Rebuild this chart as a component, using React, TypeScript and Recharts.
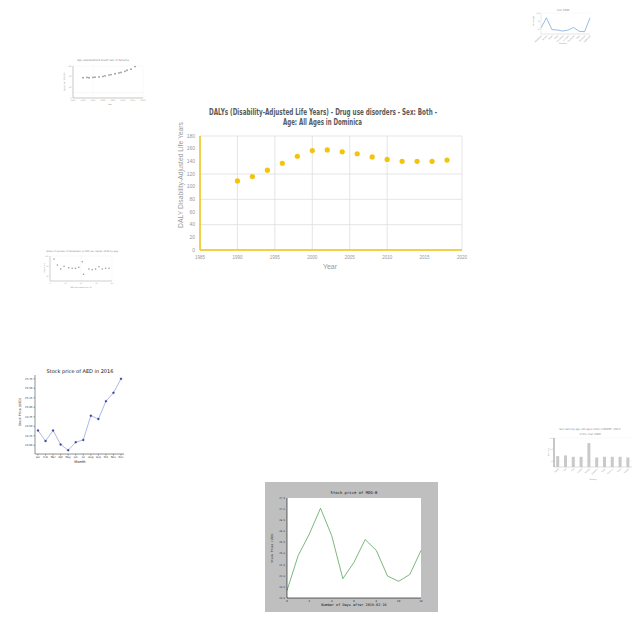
import React from 'react';
import { ScatterChart, Scatter, LineChart, Line, BarChart, Bar, XAxis, YAxis, CartesianGrid } from 'recharts';

// main chart: DALYs in Dominica
const dalyYears = [1990, 1992, 1994, 1996, 1998, 2000, 2002, 2004, 2006, 2008, 2010, 2012, 2014, 2016, 2018];
const dalyValues = [109, 116, 126, 137, 148, 157, 158, 155, 152, 147, 143, 140, 140, 140, 142];
const dalyXTicks = [1985, 1990, 1995, 2000, 2005, 2010, 2015, 2020];
const dalyYTicks = [0, 20, 40, 60, 80, 100, 120, 140, 160, 180];

// AED stock price 2016
const aedMonths = ['Jan', 'Feb', 'Mar', 'Apr', 'May', 'Jun', 'Jul', 'Aug', 'Sep', 'Oct', 'Nov', 'Dec'];
const aedPrices = [24.39, 24.11, 24.39, 24.02, 23.87, 24.08, 24.14, 24.78, 24.69, 25.16, 25.38, 25.75];
const aedYTicks = [24.0, 24.25, 24.5, 24.75, 25.0, 25.25, 25.5, 25.75];

// MOG-B stock price
const mogDays = [0, 1, 2, 3, 4, 5, 6, 7, 8, 9, 10, 11, 12];
const mogPrices = [43.34, 44.91, 45.88, 47.04, 45.81, 43.87, 44.61, 45.63, 45.14, 43.99, 43.75, 44.06, 45.14];
const mogXTicks = [0, 2, 4, 6, 8, 10, 12];
const mogYTicks = [43.0, 43.5, 44.0, 44.5, 45.0, 45.5, 46.0, 46.5, 47.0, 47.5];

// small line chart, top right
const y2000Countries = ['Argentina', 'Bolivia', 'Brazil', 'Chile', 'Colombia', 'Ecuador', 'Paraguay', 'Peru', 'Uruguay', 'Venezuela'];
const y2000Values = [29, 77, 21, 19, 14, 19, 31, 13, 11, 77];

// small scatter, top left
const panamaYears = [1990, 1992, 1993, 1995, 1996, 1998, 2000, 2001, 2003, 2004, 2006, 2008, 2009, 2011, 2012, 2014, 2016];
const panamaValues = [76, 77, 76, 77, 78, 79, 81, 83, 86, 88, 91, 94, 96, 100, 104, 108, 118];

// small scatter, left middle
const shareX = [2.6, 4.8, 6.9, 9.1, 12.1, 14.3, 16.4, 18.6, 20.8, 21.6, 25.1, 27.2, 29.4, 31.6, 33.7, 35.9, 38.1];
const shareY = [88, 64, 48, 59, 53, 51, 51, 55, 77, 27, 48, 45, 48, 57, 48, 51, 51];

// small bar chart, right
const ratioCountries = ['Egypt', 'Iran', 'Iraq', 'Jordan', 'Kuwait', 'Lebanon', 'Libya', 'Morocco', 'Syria', 'Tunisia'];
const ratioValues = [94, 100, 88, 88, 206, 82, 88, 88, 88, 82];

const dalyData = dalyYears.map((year, i) => ({ year, value: dalyValues[i] }));
const aedData = aedMonths.map((month, i) => ({ month, price: aedPrices[i] }));
const mogData = mogDays.map((day, i) => ({ day, price: mogPrices[i] }));
const y2000Data = y2000Countries.map((country, i) => ({ country, value: y2000Values[i] }));
const panamaData = panamaYears.map((year, i) => ({ year, value: panamaValues[i] }));
const shareData = shareX.map((x, i) => ({ x, y: shareY[i] }));
const ratioData = ratioCountries.map((country, i) => ({ country, value: ratioValues[i] }));

const YELLOW = '#f2c40f';

const Box = ({ left, top, children, style }: any) => (
  <div style={{ position: 'absolute', left, top, ...style }}>{children}</div>
);

const dot = (r: number, fill: string) => (p: any) => <circle cx={p.cx} cy={p.cy} r={r} fill={fill} />;

export default function App() {
  const tiny = (size: number, fill = '#888', family = 'DejaVu Sans') => ({ fontSize: size, fill, fontFamily: family });

  return (
    <div style={{ position: 'absolute', left: 0, top: 0, width: 640, height: 640, background: '#fff', overflow: 'hidden' }}>
      {/* main DALY chart */}
      <Box left={170} top={130}>
        <ScatterChart width={300} height={150} margin={{ top: 6, right: 8, left: 0, bottom: 0 }}>
          <CartesianGrid stroke="#dedede" strokeWidth={0.8} />
          <XAxis
            type="number"
            dataKey="year"
            domain={[1985, 2020]}
            ticks={dalyXTicks}
            height={30}
            axisLine={{ stroke: YELLOW, strokeWidth: 1.5 }}
            tickLine={false}
            tickSize={0}
            tickMargin={6}
            tick={tiny(4.5, '#999', 'Liberation Sans')}
          />
          <YAxis
            type="number"
            dataKey="value"
            domain={[0, 180]}
            ticks={dalyYTicks}
            width={30}
            axisLine={{ stroke: YELLOW, strokeWidth: 1.5 }}
            tickLine={false}
            tickSize={0}
            tickMargin={5}
            tick={tiny(5, '#999', 'Liberation Sans')}
          />
          <Scatter data={dalyData} fill={YELLOW} shape={dot(2.6, YELLOW)} isAnimationActive={false} />
        </ScatterChart>
      </Box>

      {/* AED stock price */}
      <Box left={15} top={368}>
        <LineChart width={115} height={97} data={aedData} margin={{ top: 7, right: 6, left: 0, bottom: 0 }}>
          <XAxis dataKey="month" height={11} padding={{ left: 3, right: 3 }} axisLine={{ stroke: '#222', strokeWidth: 0.5 }}
            tickLine={{ stroke: '#222', strokeWidth: 0.4 }} tickSize={1.5} tickMargin={1} interval={0} tick={tiny(2.6, '#333')} />
          <XAxis xAxisId="top" dataKey="month" orientation="top" height={0} axisLine={{ stroke: '#222', strokeWidth: 0.5 }} tick={false} tickLine={false} />
          <YAxis domain={[23.77, 25.85]} ticks={aedYTicks} width={20} axisLine={{ stroke: '#222', strokeWidth: 0.5 }}
            tickLine={{ stroke: '#222', strokeWidth: 0.4 }} tickSize={1.5} tickMargin={1} tick={tiny(2.6, '#333')}
            tickFormatter={(v: number) => v.toFixed(2)} />
          <YAxis yAxisId="right" orientation="right" domain={[23.77, 25.85]} width={0} axisLine={{ stroke: '#222', strokeWidth: 0.5 }} tick={false} tickLine={false} />
          <Line dataKey="price" stroke="#8f9ad8" strokeWidth={0.7} dot={{ r: 1, fill: '#34449c', stroke: '#34449c', strokeWidth: 0.3 }} isAnimationActive={false} />
        </LineChart>
      </Box>

      {/* MOG-B stock price */}
      <Box left={265} top={482} style={{ width: 173, height: 130, background: '#bfbfbf' }}>
        <LineChart width={173} height={130} data={mogData} margin={{ top: 16, right: 17, left: 0, bottom: 0 }}>
          <CartesianGrid fill="#fff" stroke="none" />
          <XAxis type="number" dataKey="day" domain={[0, 12]} ticks={mogXTicks} height={14} axisLine={{ stroke: '#000', strokeWidth: 0.6 }}
            tickLine={false} tickSize={0} tickMargin={2} tick={tiny(2.6, '#222', 'DejaVu Sans Mono')} />
          <XAxis xAxisId="top" type="number" dataKey="day" domain={[0, 12]} orientation="top" height={0} axisLine={{ stroke: '#000', strokeWidth: 0.6 }} tick={false} tickLine={false} />
          <YAxis domain={[43, 47.5]} ticks={mogYTicks} width={22} axisLine={{ stroke: '#000', strokeWidth: 0.6 }}
            tickLine={false} tickSize={0} tickMargin={2} tick={tiny(2.4, '#222', 'DejaVu Sans Mono')}
            tickFormatter={(v: number) => v.toFixed(1)} />
          <YAxis yAxisId="right" orientation="right" domain={[43, 47.5]} width={0} axisLine={{ stroke: '#000', strokeWidth: 0.6 }} tick={false} tickLine={false} />
          <Line type="linear" dataKey="price" stroke="#5aa45a" strokeWidth={0.8} dot={false} isAnimationActive={false} />
        </LineChart>
      </Box>

      {/* Year 2000 line chart, top right */}
      <Box left={530} top={5}>
        <LineChart width={70} height={45} data={y2000Data} margin={{ top: 8, right: 10, left: 0, bottom: 0 }}>
          <CartesianGrid stroke="#f0f0f0" strokeWidth={0.4} vertical={false} />
          <XAxis dataKey="country" height={16} interval={0} angle={-45} textAnchor="end" axisLine={{ stroke: '#ccc', strokeWidth: 0.4 }}
            tickLine={false} tickSize={0} tickMargin={1} tick={tiny(1.9, '#999')} />
          <YAxis domain={[0, 100]} ticks={[0, 20, 40, 60, 80, 100]} width={11} axisLine={{ stroke: '#ccc', strokeWidth: 0.4 }}
            tickLine={false} tickSize={0} tickMargin={1} tick={tiny(1.8, '#999')} />
          <Line type="linear" dataKey="value" stroke="#6d9fd6" strokeWidth={0.7} dot={false} isAnimationActive={false} />
        </LineChart>
      </Box>

      {/* Panama scatter, top left */}
      <Box left={60} top={55}>
        <ScatterChart width={95} height={50} margin={{ top: 11, right: 12, left: 0, bottom: 0 }}>
          <CartesianGrid stroke="#eeeeee" strokeWidth={0.4} />
          <XAxis type="number" dataKey="year" domain={[1985, 2020]} ticks={[1985, 1990, 1995, 2000, 2005, 2010, 2015, 2020]} height={7}
            axisLine={{ stroke: '#999', strokeWidth: 0.5 }} tickLine={false} tickSize={0} tickMargin={1.5} tick={tiny(1.9, '#999')} />
          <YAxis type="number" dataKey="value" domain={[0, 120]} ticks={[0, 20, 40, 60, 80, 100, 120]} width={13}
            axisLine={{ stroke: '#999', strokeWidth: 0.5 }} tickLine={false} tickSize={0} tickMargin={1.5} tick={tiny(1.9, '#999')} />
          <Scatter data={panamaData} fill="#999" shape={dot(0.9, '#999')} isAnimationActive={false} />
        </ScatterChart>
      </Box>

      {/* share scatter, left middle */}
      <Box left={40} top={245}>
        <ScatterChart width={80} height={45} margin={{ top: 11, right: 8, left: 0, bottom: 0 }}>
          <CartesianGrid stroke="#f0f0f0" strokeWidth={0.4} />
          <XAxis type="number" dataKey="x" domain={[0, 40]} ticks={[0, 10, 20, 30, 40]} height={9}
            axisLine={{ stroke: '#aaa', strokeWidth: 0.5 }} tickLine={false} tickSize={0} tickMargin={1.5} tick={tiny(1.8, '#999')} />
          <YAxis type="number" dataKey="y" domain={[0, 100]} ticks={[0, 20, 40, 60, 80, 100]} width={10}
            axisLine={{ stroke: '#aaa', strokeWidth: 0.5 }} tickLine={false} tickSize={0} tickMargin={1.5} tick={tiny(1.8, '#999')} />
          <Scatter data={shareData} fill="#999" shape={dot(0.8, '#999')} isAnimationActive={false} />
        </ScatterChart>
      </Box>

      {/* sex ratio bar chart, right */}
      <Box left={545} top={420}>
        <BarChart width={90} height={65} data={ratioData} margin={{ top: 18, right: 3, left: 0, bottom: 0 }} barCategoryGap="28%">
          <CartesianGrid stroke="#f0f0f0" strokeWidth={0.4} vertical={false} />
          <XAxis dataKey="country" height={18} interval={0} angle={-45} textAnchor="end" axisLine={{ stroke: '#bbb', strokeWidth: 0.4 }}
            tickLine={false} tickSize={0} tickMargin={1} tick={tiny(1.9, '#999')} />
          <YAxis domain={[0, 250]} ticks={[0, 50, 100, 150, 200, 250]} width={9} axisLine={{ stroke: '#444', strokeWidth: 0.6 }}
            tickLine={false} tickSize={0} tickMargin={1} tick={tiny(1.8, '#999')} />
          <Bar dataKey="value" fill="#c9c9c9" isAnimationActive={false} />
        </BarChart>
      </Box>

      {/* titles and axis labels */}
      <svg width={640} height={640} style={{ position: 'absolute', left: 0, top: 0, pointerEvents: 'none' }}>
        <g fontFamily="DejaVu Sans Condensed" fontWeight="bold" fill="#5a5a5a" textAnchor="middle">
          <text x={323} y={115} fontSize={8} textLength={228} lengthAdjust="spacingAndGlyphs">
            DALYs (Disability-Adjusted Life Years) - Drug use disorders - Sex: Both -
          </text>
          <text x={322.5} y={125} fontSize={8} textLength={79} lengthAdjust="spacingAndGlyphs">
            Age: All Ages in Dominica
          </text>
        </g>
        <text x={181} y={175} fontSize={6.5} fill="#999" fontFamily="Liberation Sans" textAnchor="middle" dominantBaseline="middle"
          transform="rotate(-90 181 175)" textLength={106} lengthAdjust="spacingAndGlyphs">
          DALY Disability-Adjusted Life Years
        </text>
        <text x={330} y={267} fontSize={7} fill="#999" fontFamily="Liberation Sans" textAnchor="middle" dominantBaseline="middle">Year</text>

        <g fontFamily="DejaVu Sans" textAnchor="middle" dominantBaseline="middle" fill="#111">
          <text x={80} y={372} fontSize={5}>Stock price of AED in 2016</text>
          <text x={80} y={462} fontSize={3.6}>Month</text>
          <text x={20} y={412} fontSize={3.2} transform="rotate(-90 20 412)">Stock Price (USD)</text>
        </g>

        <g fontFamily="DejaVu Sans Mono" textAnchor="middle" dominantBaseline="middle" fill="#111">
          <text x={354} y={493} fontSize={3.9}>Stock price of MOG-B</text>
          <text x={354} y={605} fontSize={3.5}>Number of Days after 2016-02-16</text>
          <text x={272} y={548} fontSize={2.9} transform="rotate(-90 272 548)">Stock Price (USD)</text>
        </g>

        <g fontFamily="DejaVu Sans" textAnchor="middle" dominantBaseline="middle" fill="#888">
          <text x={563} y={10} fontSize={2.6}>Year 2000</text>
          <text x={563} y={43} fontSize={2}>Country</text>
          <text x={534} y={21} fontSize={1.8} transform="rotate(-90 534 21)">Percentage</text>

          <text x={103} y={60} fontSize={2.6}>Age-standardized death rate in Panama</text>
          <text x={110} y={104} fontSize={2}>Year</text>
          <text x={64} y={82} fontSize={1.9} transform="rotate(-90 64 82)">Deaths per 100,000</text>

          <text x={82} y={251} fontSize={2.3}>Share of women in Parliament vs GDP per capita, 2016 by age</text>
          <text x={81} y={287} fontSize={1.9}>GDP per capita (int.-$)</text>
          <text x={45} y={268} fontSize={1.8} transform="rotate(-90 45 268)">Share (%)</text>

          <text x={590} y={429} fontSize={2.6}>Sex ratio by age (All ages ratio) (UNWPP, 2017)</text>
          <text x={590} y={434} fontSize={2.6}>in the Year 2000</text>
          <text x={593} y={479} fontSize={1.9}>Country</text>
          <text x={549} y={452} fontSize={1.8} transform="rotate(-90 549 452)">Sex ratio</text>
        </g>
      </svg>
    </div>
  );
}
